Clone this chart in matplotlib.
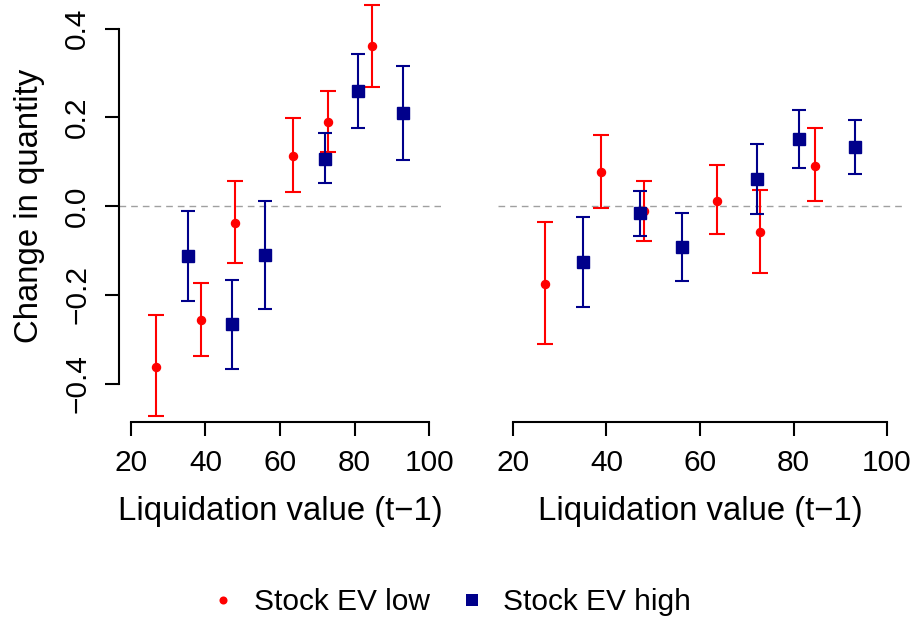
import matplotlib
matplotlib.use("Agg")
import matplotlib.pyplot as plt
from matplotlib.lines import Line2D
import numpy as np

plt.rcParams['font.family'] = ['Liberation Sans', 'DejaVu Sans']
plt.rcParams['font.size'] = 21.5

# ---- data ----
red_x_L = [26.6, 38.7, 47.8, 63.5, 72.8, 84.7]
red_y_L = [-0.362, -0.257, -0.038, 0.113, 0.189, 0.360]
red_lo_L = [-0.473, -0.338, -0.128, 0.031, 0.121, 0.268]
red_hi_L = [-0.246, -0.174, 0.057, 0.199, 0.259, 0.454]

blue_x_L = [35.2, 47.0, 56.0, 72.1, 81.0, 93.0]
blue_y_L = [-0.113, -0.266, -0.110, 0.107, 0.259, 0.209]
blue_lo_L = [-0.214, -0.367, -0.231, 0.053, 0.177, 0.104]
blue_hi_L = [-0.012, -0.167, 0.012, 0.164, 0.342, 0.315]

red_x_R = [26.8, 38.9, 48.1, 63.7, 72.8, 84.6]
red_y_R = [-0.176, 0.077, -0.012, 0.012, -0.058, 0.091]
red_lo_R = [-0.311, -0.005, -0.078, -0.063, -0.150, 0.012]
red_hi_R = [-0.036, 0.161, 0.057, 0.093, 0.037, 0.175]

blue_x_R = [35.0, 47.1, 56.1, 72.1, 81.1, 93.1]
blue_y_R = [-0.126, -0.015, -0.093, 0.061, 0.151, 0.134]
blue_lo_R = [-0.227, -0.067, -0.169, -0.018, 0.086, 0.073]
blue_hi_R = [-0.025, 0.035, -0.016, 0.139, 0.217, 0.195]

x_ticks = [20, 40, 60, 80, 100]
y_ticks = [-0.4, -0.2, 0.0, 0.2, 0.4]
y_tick_labels = ["\u22120.4", "\u22120.2", "0.0", "0.2", "0.4"]
x_label = "Liquidation value (t\u22121)"
y_label = "Change in quantity"
legend_labels = ["Stock EV low", "Stock EV high"]

RED = "#FF0000"
BLUE = "#00008B"
LABEL_SIZE = 23.7

fig = plt.figure(figsize=(9.18, 6.21), dpi=100)
axL = fig.add_axes([119/918, 1-421.7/621, 322/918, 431.3/621])
axR = fig.add_axes([498/918, 1-421.7/621, 404/918, 431.3/621])


def draw(ax, rx, ry, rlo, rhi, bx, by, blo, bhi):
    ax.axhline(0, color="#A0A0A0", lw=1.0, ls=(0, (4.8, 3.6)), zorder=1)
    ry = np.array(ry); by = np.array(by)
    rerr = np.vstack([ry - np.array(rlo), np.array(rhi) - ry])
    berr = np.vstack([by - np.array(blo), np.array(bhi) - by])
    ax.errorbar(rx, ry, yerr=rerr, fmt='o', color=RED, ms=5.8,
                elinewidth=1.5, capsize=5.8, capthick=1.5, zorder=2)
    ax.errorbar(bx, by, yerr=berr, fmt='s', color=BLUE, ms=9,
                elinewidth=1.5, capsize=5.2, capthick=1.5, zorder=3)
    ax.set_xlim(16.8, 103.2)
    ax.set_ylim(-0.486, 0.486)
    ax.spines['top'].set_visible(False)
    ax.spines['right'].set_visible(False)
    ax.spines['bottom'].set_bounds(20, 100)
    ax.spines['bottom'].set_linewidth(1.5)
    ax.spines['left'].set_linewidth(1.5)
    ax.set_xticks(x_ticks)
    ax.set_xticklabels([str(t) for t in x_ticks])
    ax.tick_params(axis='both', direction='out', length=10, width=1.5, pad=10)
    ax.set_xlabel(x_label, labelpad=13, fontsize=LABEL_SIZE)


draw(axL, red_x_L, red_y_L, red_lo_L, red_hi_L, blue_x_L, blue_y_L, blue_lo_L, blue_hi_L)
draw(axR, red_x_R, red_y_R, red_lo_R, red_hi_R, blue_x_R, blue_y_R, blue_lo_R, blue_hi_R)

axL.spines['left'].set_bounds(-0.4, 0.4)
axL.set_yticks(y_ticks)
axL.set_yticklabels(y_tick_labels, rotation=90, va='center')
axL.set_ylabel(y_label, labelpad=13, fontsize=LABEL_SIZE)

axR.spines['left'].set_visible(False)
axR.set_yticks([])

handles = [
    Line2D([], [], marker='o', ls='none', color=RED, ms=5.8, mew=0),
    Line2D([], [], marker='s', ls='none', color=BLUE, ms=9, mew=0),
]
fig.legend(handles, legend_labels, loc='center', bbox_to_anchor=(0.4895, 1-602.3/621),
           ncol=2, frameon=False, handlelength=1.0, handletextpad=0.55,
           columnspacing=0.9, borderpad=0, borderaxespad=0)

fig.savefig("out.png", dpi=100)
